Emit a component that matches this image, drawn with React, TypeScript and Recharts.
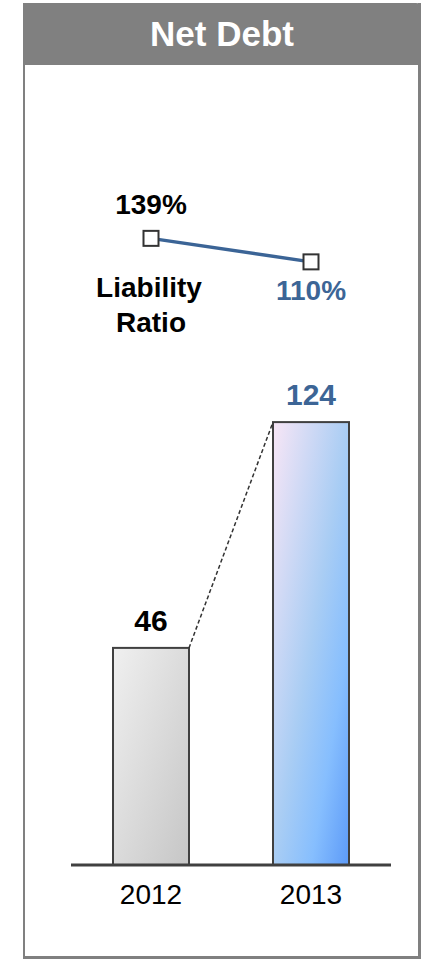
import React from 'react';
import { ComposedChart, Bar, Line, XAxis, YAxis, LabelList } from 'recharts';

// ---- data ----
const YEARS = ['2012', '2013'];
const NET_DEBT = [46, 124];
const LIABILITY_RATIO = [139, 110];
const TITLE = 'Net Debt';
const RATIO_LABEL = ['Liability', 'Ratio'];
// axis domains (hidden axes; the original chart is not drawn to a zero base)
const BAR_DOMAIN: [number, number] = [-29, 218];
const LINE_DOMAIN: [number, number] = [-634, 248];

const data = YEARS.map((year, i) => ({
  year,
  netDebt: NET_DEBT[i],
  ratio: LIABILITY_RATIO[i],
}));

const FONT = '"Liberation Sans", Arial, Helvetica, sans-serif';
const BLUE = '#3c6596';
const W = 424;
const H = 961;

let prevBarTop: { x: number; y: number } | null = null;

const BarShape = (props: any) => {
  const { x, y, width, height, index } = props;
  let connector: React.ReactNode = null;
  if (index === 0) {
    prevBarTop = { x: x + width, y };
  } else if (prevBarTop) {
    connector = (
      <line
        x1={prevBarTop.x}
        y1={prevBarTop.y}
        x2={x}
        y2={y}
        stroke="#333"
        strokeWidth={1.5}
        strokeDasharray="4 2.5"
      />
    );
  }
  return (
    <g>
      <rect
        x={x}
        y={y}
        width={width}
        height={height}
        fill={`url(#barGrad${index})`}
        stroke="#404040"
        strokeWidth={2}
      />
      {connector}
    </g>
  );
};

const BarValueLabel = (props: any) => {
  const { x, y, width, index } = props;
  return (
    <text
      x={x + width / 2}
      y={y - 17}
      textAnchor="middle"
      fontFamily={FONT}
      fontSize={30}
      fontWeight="bold"
      fill={index === 1 ? BLUE : '#000'}
    >
      {NET_DEBT[index]}
    </text>
  );
};

const RatioLabel = (props: any) => {
  const { x, y, index } = props;
  const v = LIABILITY_RATIO[index];
  const common = {
    textAnchor: 'middle' as const,
    fontFamily: FONT,
    fontSize: 28,
    fontWeight: 'bold' as const,
  };
  if (index === 0) {
    return (
      <g>
        <text x={x} y={y - 24} fill="#000" {...common}>
          {v}%
        </text>
        <text x={x - 2} y={y + 59} fill="#000" {...common}>
          {RATIO_LABEL[0]}
        </text>
        <text x={x} y={y + 94} fill="#000" {...common}>
          {RATIO_LABEL[1]}
        </text>
      </g>
    );
  }
  return (
    <text x={x} y={y + 38} fill={BLUE} {...common}>
      {v}%
    </text>
  );
};

const SquareDot = (props: any) => {
  const { cx, cy, index } = props;
  return (
    <rect
      key={`dot-${index}`}
      x={cx - 7.5}
      y={cy - 7.5}
      width={15}
      height={15}
      fill="#fff"
      stroke="#333"
      strokeWidth={2}
    />
  );
};

export default function App() {
  return (
    <div
      style={{
        position: 'absolute',
        left: 0,
        top: 0,
        width: W,
        height: H,
        background: '#fff',
        fontFamily: FONT,
      }}
    >
      {/* panel */}
      <div
        style={{
          position: 'absolute',
          left: 23,
          top: 3,
          width: 398,
          height: 956,
          boxSizing: 'border-box',
          borderLeft: '2px solid #808080',
          borderRight: '3px solid #808080',
          borderBottom: '3px solid #808080',
        }}
      />
      <div
        style={{
          position: 'absolute',
          left: 23,
          top: 3,
          width: 398,
          height: 62,
          background: '#808080',
          borderTopRightRadius: 5,
          color: '#fff',
          fontWeight: 'bold',
          fontSize: 35,
          lineHeight: '62px',
          textAlign: 'center',
        }}
      >
        {TITLE}
      </div>
      <div style={{ position: 'absolute', left: 0, top: 0 }}>
        <ComposedChart
          width={W}
          height={H}
          data={data}
          margin={{ top: 150, right: 33, bottom: 36, left: 71 }}
        >
          <defs>
            <linearGradient id="barGrad0" x1="0" y1="0" x2="1" y2="1">
              <stop offset="0%" stopColor="#f0f0f0" />
              <stop offset="100%" stopColor="#c6c6c6" />
            </linearGradient>
            <linearGradient id="barGrad1" x1="0" y1="0" x2="1" y2="1">
              <stop offset="0%" stopColor="#f8e6f6" />
              <stop offset="50%" stopColor="#a9cdf4" />
              <stop offset="75%" stopColor="#86befe" />
              <stop offset="100%" stopColor="#5c9af8" />
            </linearGradient>
          </defs>
          <XAxis
            dataKey="year"
            height={60}
            tickLine={false}
            tickSize={6}
            tickMargin={13}
            axisLine={{ stroke: '#404040', strokeWidth: 3 }}
            tick={{ fontSize: 28, fill: '#000', fontFamily: FONT }}
          />
          <YAxis yAxisId="bar" hide domain={BAR_DOMAIN} allowDataOverflow />
          <YAxis yAxisId="line" hide domain={LINE_DOMAIN} allowDataOverflow />
          <Bar
            yAxisId="bar"
            dataKey={(d: any) => [BAR_DOMAIN[0], d.netDebt]}
            barSize={76}
            shape={BarShape}
            isAnimationActive={false}
          >
            <LabelList content={BarValueLabel} />
          </Bar>
          <Line
            yAxisId="line"
            dataKey="ratio"
            stroke="#3b6496"
            strokeWidth={3.5}
            dot={SquareDot}
            activeDot={false}
            isAnimationActive={false}
          >
            <LabelList content={RatioLabel} />
          </Line>
        </ComposedChart>
      </div>
    </div>
  );
}
